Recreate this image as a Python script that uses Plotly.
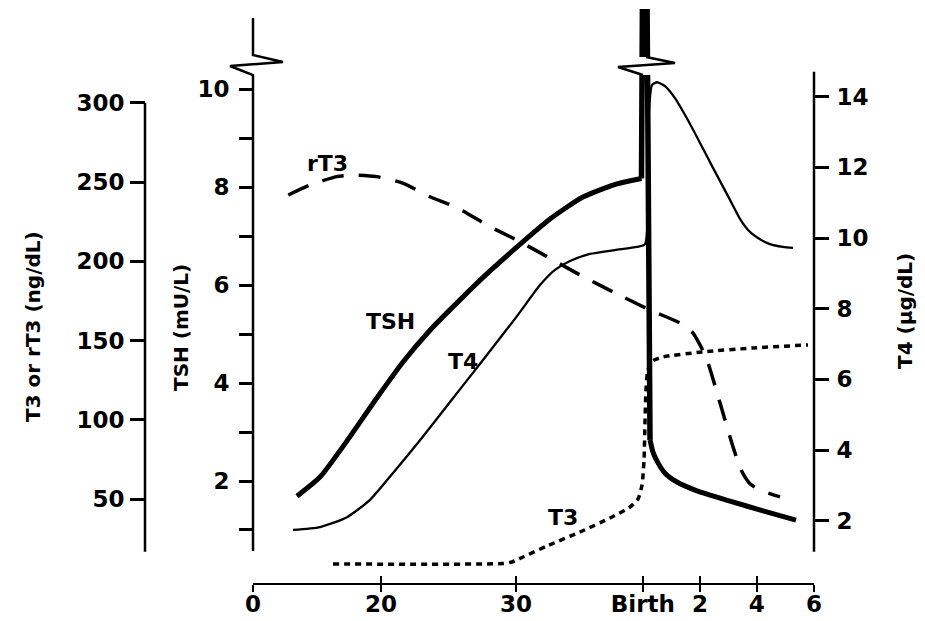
import plotly.graph_objects as go

# The page body adds an 8 px margin, so the figure is sized to fit inside the window
PAGE_W, PAGE_H, BODY = 925, 621, 8
W, H = PAGE_W - 2 * BODY, PAGE_H - 2 * BODY

# ---------------- data ----------------
# x positions are in axis units: 0 = start of the time axis, 100 = 6 weeks after birth
x_tick_vals = [0, 22.8, 46.9, 69.5, 79.7, 89.8, 100]
x_tick_text = ["0", "20", "30", "Birth", "2", "4", "6"]

tsh_ticks = [1, 2, 3, 4, 5, 6, 7, 8, 9, 10]
tsh_tick_text = ["", "2", "", "4", "", "6", "", "8", "", "10"]
t3_ticks = [50, 100, 150, 200, 250, 300]
t4_ticks = [2, 4, 6, 8, 10, 12, 14]

# TSH (mU/L)
tsh_fetal_x = [7.84, 11.94, 16.76, 22.10, 26.74, 31.55, 36.90, 42.25, 47.06, 52.94, 58.82, 64.88, 69.25]
tsh_fetal_y = [1.69, 2.08, 2.82, 3.70, 4.43, 5.08, 5.70, 6.29, 6.78, 7.35, 7.80, 8.07, 8.18]
tsh_surge_x = [69.25, 69.45, 70.20, 70.77]
tsh_surge_y = [8.18, 12.5, 12.5, 2.84]
tsh_neo_x = [70.77, 71.30, 72.19, 73.44, 75.58, 79.14, 85.03, 90.91, 96.79]
tsh_neo_y = [2.84, 2.59, 2.37, 2.16, 1.98, 1.80, 1.59, 1.39, 1.20]

# T4 (ug/dL)
t4_x = [7.13, 11.94, 16.76, 20.86, 24.96, 29.77, 35.12, 41.00, 47.06, 51.16, 53.83, 56.51, 60.07, 64.53, 68.45, 69.88,
        70.59, 71.12, 72.02, 73.44, 75.22, 77.90, 81.46, 85.03, 86.81, 88.24, 90.02, 92.16, 94.47, 96.26]
t4_y = [1.74, 1.82, 2.10, 2.59, 3.35, 4.28, 5.36, 6.55, 7.79, 8.67, 9.10, 9.35, 9.55, 9.66, 9.75, 9.83,
        13.62, 14.33, 14.41, 14.30, 13.96, 13.23, 12.15, 11.08, 10.54, 10.23, 10.00, 9.83, 9.75, 9.72]

# rT3 (ng/dL)
rt3_x = [6.29, 10.16, 14.92, 17.88, 22.05, 26.79, 31.55, 36.31, 42.25, 47.00, 52.94, 58.88, 66.01, 70.77,
         76.11, 78.43, 79.68, 80.93, 83.24, 85.56, 86.99, 88.59, 90.73, 93.94]
rt3_y = [241.8, 248.1, 253.4, 254.4, 253.4, 249.2, 240.7, 233.9, 221.8, 213.5, 201.9, 190.3, 177.5, 169.3,
         161.1, 154.8, 147.3, 137.9, 110.8, 83.1, 68.6, 59.8, 55.3, 51.5]

# T3 (ng/dL)
t3_x = [14.26, 44.56, 46.17, 48.13, 52.41, 58.29, 63.64, 67.20, 68.63, 69.34, 69.70, 69.88, 70.05, 70.32,
        70.94, 73.08, 80.21, 89.13, 98.93]
t3_y = [9.22, 9.53, 10.48, 13.63, 20.56, 29.39, 38.21, 45.15, 50.19, 59.01, 74.77, 99.99, 118.9, 130.2,
        136.6, 139.7, 142.9, 145.4, 147.3]

# ---------------- helpers (window pixels -> paper fractions) ----------------
def px(x):
    return (x - BODY) / W


def py(y):
    return 1 - (y - BODY) / H


FONT = "DejaVu Sans"
INK = "#000000"
tick_font = dict(family=FONT, size=23, color=INK, weight="bold")
label_font = dict(family=FONT, size=22, color=INK, weight="bold")
title_font = dict(family=FONT, size=20, color=INK, weight="bold")

X0, X1 = 253, 814          # window-pixel span of the time axis
Y_TOP, Y_BOT = 9, 583      # window-pixel span of the plotting area
# axis ranges matching that pixel span
tsh_range = [2 - (Y_BOT - 481) / 48.96, 2 + (481 - Y_TOP) / 48.96]
t3_range = [50 - (Y_BOT - 499.3) / 1.5864, 50 + (499.3 - Y_TOP) / 1.5864]
t4_range = [2 - (Y_BOT - 520.7) / 35.33, 2 + (520.7 - Y_TOP) / 35.33]

fig = go.Figure()

line_kw = dict(mode="lines", hoverinfo="skip", showlegend=False)

fig.add_trace(go.Scatter(x=t4_x, y=t4_y, yaxis="y3", line=dict(color=INK, width=2.3, shape="spline", smoothing=0.6), **line_kw))
fig.add_trace(go.Scatter(x=rt3_x, y=rt3_y, yaxis="y2", line=dict(color=INK, width=3.5, dash="22px,15px", shape="spline", smoothing=0.6), **line_kw))
fig.add_trace(go.Scatter(x=t3_x, y=t3_y, yaxis="y2", line=dict(color=INK, width=3.5, dash="6px,5px", shape="spline", smoothing=0.6), **line_kw))
fig.add_trace(go.Scatter(x=tsh_fetal_x, y=tsh_fetal_y, yaxis="y", line=dict(color=INK, width=5, shape="spline", smoothing=0.6), **line_kw))
fig.add_trace(go.Scatter(x=tsh_surge_x, y=tsh_surge_y, yaxis="y", line=dict(color=INK, width=5.5), **line_kw))
fig.add_trace(go.Scatter(x=tsh_neo_x, y=tsh_neo_y, yaxis="y", line=dict(color=INK, width=5, shape="spline", smoothing=0.6), **line_kw))
# carrier for the inside half of the crossing x ticks
fig.add_trace(go.Scatter(x=[None], y=[None], xaxis="x2", yaxis="y", **line_kw))

y_domain = [py(Y_BOT), py(Y_TOP)]

fig.update_layout(
    width=W, height=H,
    margin=dict(l=0, r=0, t=0, b=0),
    paper_bgcolor="white", plot_bgcolor="white",
    xaxis=dict(domain=[px(X0), px(X1)], range=[0, 100], tickmode="array",
               tickvals=x_tick_vals, ticktext=x_tick_text, ticks="outside", ticklen=7,
               tickwidth=2, tickcolor=INK, showline=True, linewidth=2, linecolor=INK,
               showgrid=False, zeroline=False, tickfont=tick_font, anchor="y",
               automargin=False, fixedrange=True, ticklabelstandoff=-8),
    xaxis2=dict(domain=[px(X0), px(X1)], range=[0, 100], overlaying="x", tickmode="array",
                tickvals=x_tick_vals, ticks="inside", ticklen=7, tickwidth=2, tickcolor=INK,
                showticklabels=False, showline=False, showgrid=False, zeroline=False,
                anchor="y", automargin=False),
    yaxis=dict(domain=y_domain, range=tsh_range, tickmode="array",
               tickvals=tsh_ticks, ticktext=tsh_tick_text, ticks="outside", ticklen=13,
               tickwidth=2.5, tickcolor=INK, showline=False, showgrid=False, zeroline=False,
               tickfont=tick_font, anchor="x", side="left", automargin=False,
               ticklabelstandoff=5),
    yaxis2=dict(domain=y_domain, range=t3_range, overlaying="y", anchor="free",
                position=px(145), side="left", tickmode="array", tickvals=t3_ticks,
                ticks="outside", ticklen=15, tickwidth=2.5, tickcolor=INK, showline=False,
                showgrid=False, zeroline=False, tickfont=tick_font, automargin=False,
                ticklabelstandoff=1),
    yaxis3=dict(domain=y_domain, range=t4_range, overlaying="y", anchor="x",
                side="right", tickmode="array", tickvals=t4_ticks, ticks="outside",
                ticklen=14, tickwidth=2.5, tickcolor=INK, showline=False, showgrid=False,
                zeroline=False, tickfont=tick_font, automargin=False,
                ticklabelstandoff=3),
)

def path(points):
    return "M " + " L ".join(f"{px(a):.5f},{py(b):.5f}" for a, b in points)

shapes = [
    # T3 / rT3 axis line
    dict(type="line", xref="paper", yref="paper", x0=px(145), x1=px(145), y0=py(551.7), y1=py(102.7),
         line=dict(color=INK, width=2.5)),
    # TSH axis with break symbol
    dict(type="path", xref="paper", yref="paper",
         path=path([(X0, 18), (X0, 55), (283, 62), (230, 66), (X0, 75), (X0, 551)]),
         line=dict(color=INK, width=2.5)),
    # T4 axis line
    dict(type="line", xref="paper", yref="paper", x0=px(X1), x1=px(X1), y0=py(551.7), y1=py(71.7),
         line=dict(color=INK, width=2.5)),
    # gap in the TSH surge for the break symbol
    dict(type="rect", xref="paper", yref="paper", x0=px(636), x1=px(655), y0=py(75), y1=py(57),
         fillcolor="white", line=dict(width=0)),
    dict(type="path", xref="paper", yref="paper",
         path=path([(646, 57), (675, 63), (618, 67), (643, 75)]),
         line=dict(color=INK, width=2.5)),
]
fig.update_layout(shapes=shapes)

def ann(text, x, y, font, angle=0):
    return dict(text=text, x=px(x), y=py(y), xref="paper", yref="paper", showarrow=False,
                xanchor="center", yanchor="middle", font=font, textangle=angle)

fig.update_layout(annotations=[
    ann("T3 or rT3 (ng/dL)", 33, 327, title_font, -90),
    ann("TSH (mU/L)", 181, 328, title_font, -90),
    ann("T4 (µg/dL)", 905, 311, title_font, -90),
    ann("rT3", 327, 163, label_font),
    ann("TSH", 390, 321, label_font),
    ann("T4", 463, 361, label_font),
    ann("T3", 563, 517, label_font),
])

fig.write_html("out.html")
